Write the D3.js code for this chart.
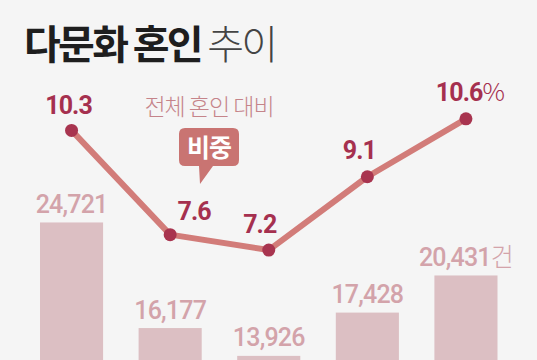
<!DOCTYPE html>
<html><head><meta charset="utf-8">
<script src="https://cdn.jsdelivr.net/npm/d3@7"></script>
<style>html,body{margin:0;padding:0;background:#f5f5f5;}svg{display:block;}</style>
</head><body>
<script>
const years = ["2019", "2020", "2021", "2022", "2023"];
const marriages = [24721, 16177, 13926, 17428, 20431];
const shares = [10.3, 7.6, 7.2, 9.1, 10.6];
const titleMain = "다문화 혼인";
const titleSub = "추이";
const noteText = "전체 혼인 대비";
const bubbleText = "비중";
const barUnit = "건";
const shareUnit = "%";

const W = 537, H = 360;
const font = "'Noto Sans CJK KR', 'Noto Sans', sans-serif";
const numFont = "Roboto, 'Noto Sans CJK KR', sans-serif";
const svg = d3.select("body").append("svg").attr("width", W).attr("height", H);
svg.append("rect").attr("width", W).attr("height", H).attr("fill", "#f5f5f5");

const x = d3.scaleBand().domain(years).range([40, 497.5]).paddingInner(0.36).paddingOuter(0);
const yBar = d3.scaleLinear().domain([0, 25000]).range([528, 219]);
const yLine = d3.scaleLinear().domain([0, 12]).range([528, 64.8]);
const cx = d => x(d) + x.bandwidth() / 2;

// title
const t = svg.append("text").attr("x", 24).attr("y", 59).attr("font-family", font).attr("font-size", 40).attr("letter-spacing", -2.7);
t.append("tspan").attr("font-weight", 700).attr("fill", "#1e1e1e").text(titleMain + " ");
t.append("tspan").attr("font-weight", 300).attr("fill", "#444").text(titleSub);

// bars
svg.selectAll(".bar").data(years).join("rect")
  .attr("x", d => x(d)).attr("width", x.bandwidth())
  .attr("y", (d, i) => yBar(marriages[i])).attr("height", (d, i) => yBar(0) - yBar(marriages[i]))
  .attr("fill", "#dcbfc3");

const fmt = d3.format(",");
svg.selectAll(".blab").data(years).join("text")
  .attr("x", d => cx(d)).attr("y", (d, i) => yBar(marriages[i]) - 9.5)
  .attr("text-anchor", "middle").attr("font-family", numFont).attr("font-size", 25).attr("font-weight", 500)
  .attr("letter-spacing", -0.8).attr("fill", "#d3a3aa")
  .each(function(d, i) {
    const s = d3.select(this);
    s.append("tspan").text(fmt(marriages[i]));
    if (i === years.length - 1) s.append("tspan").attr("font-family", font).attr("font-weight", 300).text(barUnit);
  });

// line
const line = d3.line().x((d, i) => cx(years[i])).y(d => yLine(d));
svg.append("path").datum(shares).attr("d", line).attr("fill", "none")
  .attr("stroke", "#d27c79").attr("stroke-width", 6).attr("stroke-linejoin", "round");
svg.selectAll(".pt").data(shares).join("circle")
  .attr("cx", (d, i) => cx(years[i])).attr("cy", d => yLine(d)).attr("r", 6.5).attr("fill", "#a8344f");

const ldx = [-3, 24, -9, -8, 4];
const ldy = [-16, -15, -17, -18, -18];
svg.selectAll(".llab").data(shares).join("text")
  .attr("x", (d, i) => cx(years[i]) + ldx[i]).attr("y", (d, i) => yLine(d) + ldy[i])
  .attr("text-anchor", "middle").attr("font-family", numFont).attr("font-size", 25).attr("font-weight", 700)
  .attr("letter-spacing", -0.9).attr("fill", "#a5304f")
  .each(function(d, i) {
    const s = d3.select(this);
    s.append("tspan").text(d3.format(".1f")(d));
    if (i === shares.length - 1) s.append("tspan").attr("font-family", font).attr("font-weight", 300).text(shareUnit);
  });

// annotation
svg.append("text").attr("x", 209).attr("y", 115).attr("text-anchor", "middle")
  .attr("font-family", font).attr("font-size", 23).attr("font-weight", 300).attr("letter-spacing", -1)
  .attr("fill", "#c5848a").text(noteText);
const bx = 179, by = 128, bw = 60, bh = 38, r = 6;
svg.append("path").attr("fill", "#c97472")
  .attr("d", `M${bx + r},${by} H${bx + bw - r} Q${bx + bw},${by} ${bx + bw},${by + r} V${by + bh - r} Q${bx + bw},${by + bh} ${bx + bw - r},${by + bh} H213 L200,184 L199,${by + bh} H${bx + r} Q${bx},${by + bh} ${bx},${by + bh - r} V${by + r} Q${bx},${by} ${bx + r},${by} Z`);
svg.append("text").attr("x", bx + bw / 2).attr("y", 157).attr("text-anchor", "middle")
  .attr("font-family", font).attr("font-size", 25).attr("font-weight", 700).attr("letter-spacing", -1)
  .attr("fill", "#ffffff").text(bubbleText);
</script>
</body></html>
